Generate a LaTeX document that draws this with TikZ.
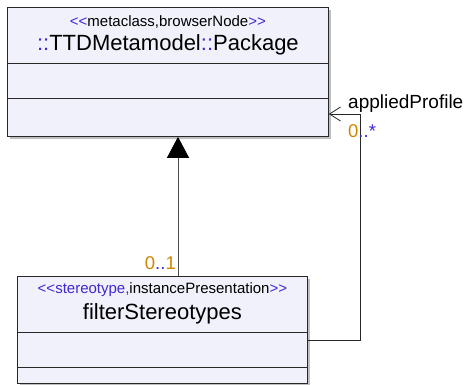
\documentclass[tikz,border=0pt]{standalone}
\usepackage{fontspec}
\setmainfont{Liberation Sans}[Ligatures=TeXOff]
\usepackage{xcolor}
\usetikzlibrary{arrows.meta, positioning, calc, shadows}
\definecolor{umlfill}{RGB}{241,241,251}
\definecolor{umlblue}{RGB}{64,40,210}
\definecolor{umlorange}{RGB}{204,136,0}
\definecolor{umlline}{RGB}{40,40,40}
\newcommand{\blu}[1]{\textcolor{umlblue}{#1}}
\newcommand{\ora}[1]{\textcolor{umlorange}{#1}}
\tikzset{
  umlclass/.style={rectangle, draw=umlline, fill=umlfill, line width=0.8pt,
                   inner sep=0pt, anchor=north west,
                   drop shadow={shadow xshift=3pt, shadow yshift=-3pt,
                                fill=black!25, opacity=1}},
  stereo/.style={anchor=base, inner sep=0pt, font=\fontsize{15}{18}\selectfont},
  clsname/.style={anchor=base, inner sep=0pt, font=\fontsize{22}{26}\selectfont},
  mult/.style={inner sep=0pt, font=\fontsize{18.5}{22}\selectfont},
  rolelbl/.style={inner sep=0pt, font=\fontsize{19}{22}\selectfont},
  gen/.style={-{Triangle[length=21pt,width=22pt,black]}, line width=0.8pt, draw=black!70},
  assoc/.style={-{Straight Barb[length=11pt,width=14pt]}, line width=0.8pt, draw=umlline}
}

\begin{document}
\begin{tikzpicture}[x=1pt, y=-1pt]
  \useasboundingbox (0,0) rectangle (466,384);

  % classes
  \node[umlclass, minimum width=321pt, minimum height=129pt] (pkg) at (7,7) {};
  \node[umlclass, minimum width=290pt, minimum height=107pt] (filt) at (17,276) {};

  \node[stereo] (pkgst) at ($(pkg.north)+(0,19)$)
    {\blu{<<}metaclass,browserNode\blu{>>}};
  \node[clsname] (pkgnm) at ($(pkg.north)+(0,43)$)
    {\blu{::}TTDMetamodel\blu{::}Package};
  \node[stereo] (filtst) at ($(filt.north)+(0,17)$)
    {\blu{<<stereotype,}instancePresentation\blu{>>}};
  \node[clsname] (filtnm) at ($(filt.north)+(0,43)$)
    {filterStereotypes};

  \foreach \b in {pkg,filt}
    \foreach \d in {56,91}
      \draw[umlline, line width=0.8pt] ($(\b.north west)+(0,\d)$) -- ($(\b.north east)+(0,\d)$);

  % generalization
  \coordinate (gx) at (178,0);
  \draw[gen] (filt.north -| gx) -- (pkg.south -| gx);
  \node[mult, anchor=base east] (m01) at ($(filt.north -| gx)+(-2,-7)$)
    {\ora{0}\blu{..}\ora{1}};

  % association
  \coordinate (abot) at (360,340);
  \coordinate (atop) at (360,114);
  \draw[assoc] (filt.east |- abot) -- (abot) -- (atop) -- (pkg.east |- atop);
  \node[rolelbl, anchor=base west] (role) at ($(atop)+(-12,-6)$) {appliedProfile};
  \node[mult, anchor=base west] (m0n) at ($(atop)+(-12,23)$)
    {\ora{0}\blu{..*}};
\end{tikzpicture}
\end{document}
